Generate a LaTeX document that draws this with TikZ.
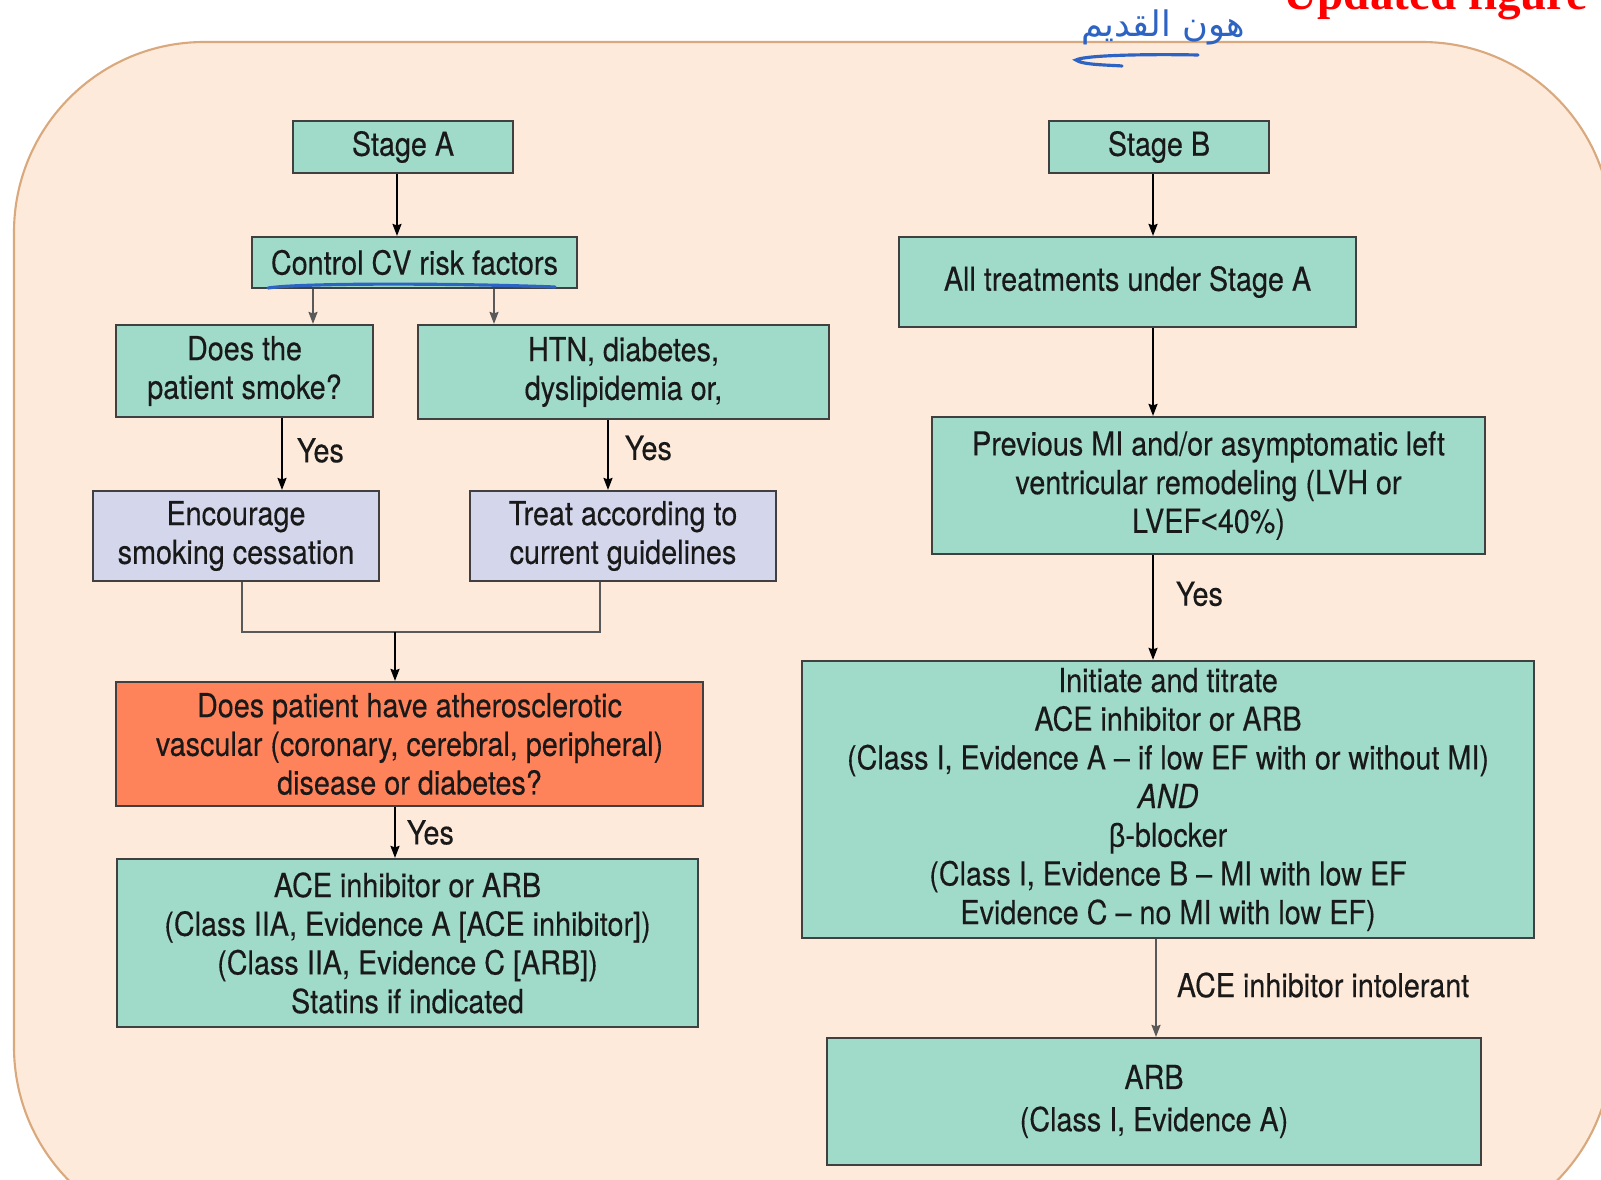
\documentclass[tikz,border=0pt]{standalone}
\usepackage{fontspec}
\setmainfont{TeX Gyre Heros}[FakeStretch=0.87, FakeBold=0.3]
\newfontfamily\greekfont{Liberation Sans}[FakeStretch=0.87, FakeBold=0.3]
\newfontfamily\titlefont{Liberation Serif}
\newfontfamily\arabicfont[Script=Arabic]{DejaVu Sans}
\TeXXeTstate=1
\usetikzlibrary{arrows.meta, positioning, calc}

\definecolor{bgfill}{RGB}{253,234,218}
\definecolor{bgline}{RGB}{218,168,125}
\definecolor{boxgreen}{RGB}{160,218,200}
\definecolor{boxlav}{RGB}{212,214,236}
\definecolor{boxred}{RGB}{255,131,90}
\definecolor{boxline}{RGB}{64,64,64}
\definecolor{inkblue}{RGB}{45,100,195}
\definecolor{txt}{RGB}{25,25,25}

\begin{document}
\begin{tikzpicture}[x=0.01cm, y=-0.01cm,
    box/.style={draw=boxline, line width=0.6pt, align=center, inner sep=0pt, text=txt,
        font=\fontsize{9.4}{11}\selectfont},
    greenbox/.style={box, fill=boxgreen},
    lavbox/.style={box, fill=boxlav},
    redbox/.style={box, fill=boxred},
    yeslbl/.style={anchor=west, inner sep=0pt, text=txt, font=\fontsize{9.4}{11}\selectfont},
    arrowline/.style={black, line width=0.5pt},
    grayline/.style={black!65, line width=0.5pt},
    >={Stealth[length=0.12cm, width=0.09cm, inset=0.015cm]}]
    \useasboundingbox (0,0) rectangle (1601,1179);

    % Background panel
    \draw[bgline, fill=bgfill, line width=0.6pt, rounded corners=1.9cm] (14,42) rectangle (1612,1237);

    % Stage A column
    \node[greenbox, minimum width=2.2cm, minimum height=0.52cm] (stageA) at (403,147) {Stage A};
    \node[greenbox, minimum width=3.25cm, minimum height=0.51cm] (risk) at (414.5,262.5) {Control CV risk factors};
    \node[greenbox, minimum width=2.57cm, minimum height=0.92cm] (smoke) at (244.5,371) {Does the\\patient smoke?};
    \node[greenbox, minimum width=4.11cm, minimum height=0.94cm] (htn) at (623.5,372) {HTN, diabetes,\\dyslipidemia or,};
    \node[lavbox, minimum width=2.86cm, minimum height=0.9cm] (quit) at (236,536) {Encourage\\smoking cessation};
    \node[lavbox, minimum width=3.06cm, minimum height=0.9cm] (treat) at (623,536) {Treat according to\\current guidelines};
    \node[redbox, minimum width=5.87cm, minimum height=1.24cm] (athero) at (409.5,744)
        {Does patient have atherosclerotic\\vascular (coronary, cerebral, peripheral)\\disease or diabetes?};
    \node[greenbox, minimum width=5.81cm, minimum height=1.68cm] (aceA) at (407.5,943)
        {ACE inhibitor or ARB\\(Class IIA, Evidence A [ACE inhibitor])\\(Class IIA, Evidence C [ARB])\\Statins if indicated};

    % Stage B column
    \node[greenbox, minimum width=2.2cm, minimum height=0.52cm] (stageB) at (1159,147) {Stage B};
    \node[greenbox, minimum width=4.57cm, minimum height=0.9cm] (allA) at (1127.5,282) {All treatments under Stage A};
    \node[greenbox, minimum width=5.53cm, minimum height=1.37cm] (prevMI) at (1208.5,485.5)
        {Previous MI and/or asymptomatic left\\ventricular remodeling (LVH or\\LVEF{\greekfont <}40\%)};
    \node[greenbox, minimum width=7.32cm, minimum height=2.77cm] (titrate) at (1168,799.5)
        {Initiate and titrate\\ACE inhibitor or ARB\\(Class I, Evidence A -- if low EF with or without MI)\\\textit{AND}\\{\greekfont β}-blocker\\(Class I, Evidence B -- MI with low EF\\Evidence C -- no MI with low EF)};
    \node[greenbox, minimum width=6.54cm, minimum height=1.27cm] (arb) at (1154,1101.5)
        {ARB\\[1pt](Class I, Evidence A)};

    % Connector columns
    \coordinate (colA) at (397,0);
    \coordinate (colS) at (313,0);
    \coordinate (colH) at (494,0);
    \coordinate (colY) at (282,0);
    \coordinate (colT) at (608,0);
    \coordinate (colQ) at (242,0);
    \coordinate (colG) at (600,0);
    \coordinate (merge) at (395,632);
    \coordinate (colB) at (1153,0);
    \coordinate (colR) at (1156,0);

    % Left connectors
    \draw[->, arrowline] (stageA.south -| colA) -- (risk.north -| colA);
    \draw[->, grayline] (risk.south -| colS) -- (smoke.north -| colS);
    \draw[->, grayline] (risk.south -| colH) -- (htn.north -| colH);
    \draw[->, arrowline] (smoke.south -| colY) -- (quit.north -| colY)
        node[yeslbl, pos=0.45, right=0.14cm] {Yes};
    \draw[->, arrowline] (htn.south -| colT) -- (treat.north -| colT)
        node[yeslbl, pos=0.4, right=0.16cm] {Yes};
    \draw[grayline] (quit.south -| colQ) |- (merge) -| (treat.south -| colG);
    \draw[->, arrowline] (merge) -- (athero.north -| merge);
    \draw[->, arrowline] (athero.south -| merge) -- (aceA.north -| merge)
        node[yeslbl, midway, right=0.11cm] {Yes};

    % Right connectors
    \draw[->, arrowline] (stageB.south -| colB) -- (allA.north -| colB);
    \draw[->, arrowline] (allA.south -| colB) -- (prevMI.north -| colB);
    \draw[->, arrowline] (prevMI.south -| colB) -- (titrate.north -| colB)
        node[yeslbl, pos=0.37, right=0.22cm] {Yes};
    \draw[->, grayline] (titrate.south -| colR) -- (arb.north -| colR)
        node[yeslbl, pos=0.47, right=0.2cm] {ACE inhibitor intolerant};

    % Handwritten notes
    \draw[inkblue, line width=0.9pt, line cap=round] (268,288) .. controls (300,283) and (450,283) .. (555,287);
    \node[text=inkblue, inner sep=0pt, font=\arabicfont\fontsize{10}{12}\selectfont] (note) at (1163,27) {\beginR هون القديم\endR};
    \draw[inkblue, line width=0.9pt, line cap=round] (1198,55) .. controls (1150,54) and (1085,55) .. (1076,60)
        .. controls (1082,65) and (1110,65) .. (1122,66);
    \node[anchor=base west, inner sep=0pt, text=red, font=\titlefont\bfseries\fontsize{13.4}{15}\selectfont] (upd) at (1283,10) {Updated figure};
\end{tikzpicture}
\end{document}
